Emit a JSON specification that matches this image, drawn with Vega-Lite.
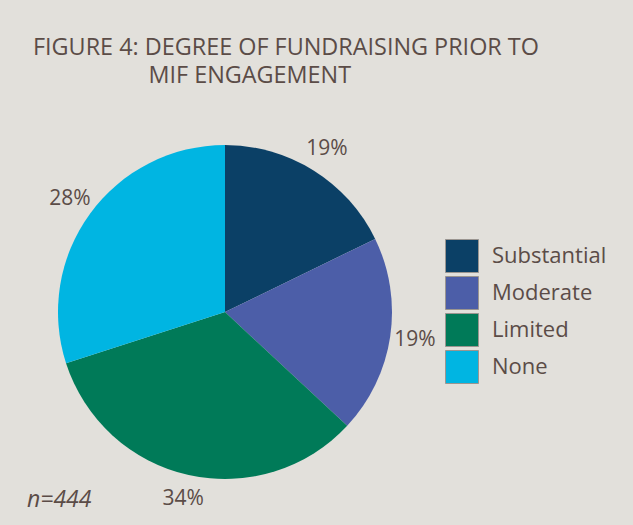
{
  "$schema": "https://vega.github.io/schema/vega-lite/v6.json",
  "padding": {"left": 27, "top": 35, "right": 26, "bottom": 16},
  "background": "#e2e0db",
  "bounds": "flush",
  "title": {
    "text": ["FIGURE 4: DEGREE OF FUNDRAISING PRIOR TO", "\u200b\u00a0\u00a0\u00a0\u00a0\u00a0\u00a0\u00a0\u00a0\u00a0\u00a0\u00a0\u00a0\u00a0\u00a0\u00a0\u00a0\u00a0\u00a0\u00a0MIF ENGAGEMENT"],
    "anchor": "start",
    "frame": "group",
    "dx": -25,
    "offset": 50,
    "font": "Open Sans",
    "fontSize": 23.4,
    "fontWeight": "normal",
    "color": "#5b4c47",
    "lineHeight": 28
  },
  "config": {"view": {"stroke": null}},
  "vconcat": [
    {
      "width": 334,
      "height": 334,
      "title": {
        "text": "n=444",
        "orient": "bottom",
        "anchor": "start",
        "frame": "group",
        "dx": -31,
        "offset": -20,
        "font": "Open Sans",
        "fontSize": 23,
        "fontStyle": "italic",
        "fontWeight": "normal",
        "color": "#5b4c47"
      },
      "data": {
        "values": [
          {"category": "Substantial", "rank": 1, "count": 79, "label": "19%"},
          {"category": "Moderate", "rank": 2, "count": 85, "label": "19%"},
          {"category": "Limited", "rank": 3, "count": 147, "label": "34%"},
          {"category": "None", "rank": 4, "count": 133, "label": "28%"}
        ]
      },
      "encoding": {
        "theta": {"field": "count", "type": "quantitative", "stack": true},
        "order": {"field": "rank", "type": "quantitative"},
        "color": {
          "field": "category",
          "type": "nominal",
          "sort": ["Substantial", "Moderate", "Limited", "None"],
          "scale": {
            "domain": ["Substantial", "Moderate", "Limited", "None"],
            "range": ["#0b4066", "#4c5ea8", "#007a58", "#00b5e2"]
          },
          "legend": {
            "title": null,
            "orient": "none",
            "legendX": 387,
            "legendY": 94,
            "symbolType": "square",
            "symbolSize": 1089,
            "symbolStrokeColor": "#9a9590",
            "symbolStrokeWidth": 1,
            "symbolOpacity": 1,
            "labelFont": "Open Sans",
            "labelFontSize": 22,
            "labelColor": "#5b4c47",
            "labelOffset": 13,
            "rowPadding": -1
          }
        }
      },
      "layer": [
        {
          "mark": {"type": "arc"}
        },
        {
          "mark": {"type": "text", "radius": 192, "font": "Open Sans", "fontSize": 21, "color": "#5b4c47"},
          "encoding": {
            "text": {"field": "label"},
            "color": {"value": "#5b4c47"}
          }
        }
      ]
    }
  ]
}
